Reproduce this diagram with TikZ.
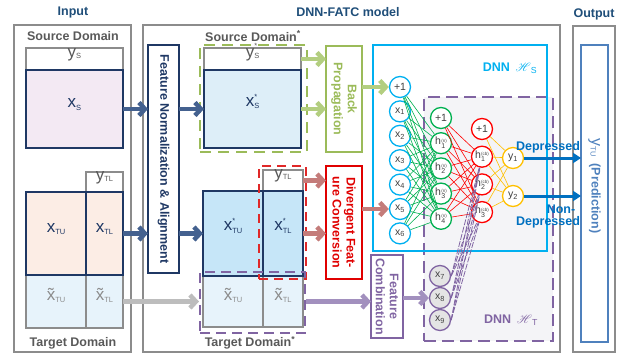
\documentclass[tikz,border=0pt]{standalone}
\usepackage{fontspec}
\setmainfont{Liberation Sans}
\usepackage{mathrsfs}
\usetikzlibrary{arrows.meta,fit}
\definecolor{cgray}{HTML}{8C8C8C}
\definecolor{cgrayA}{HTML}{BDBDBD}
\definecolor{cdb}{HTML}{1F3864}
\definecolor{ctitle}{HTML}{1F4E79}
\definecolor{carrowb}{HTML}{44618F}
\definecolor{cgreen}{HTML}{9BBB59}
\definecolor{cgreenA}{HTML}{B3CE80}
\definecolor{cred}{HTML}{E00000}
\definecolor{credD}{HTML}{E02828}
\definecolor{credA}{HTML}{C47C7A}
\definecolor{cpur}{HTML}{8064A2}
\definecolor{cpurA}{HTML}{A290BE}
\definecolor{ccyan}{HTML}{00B0F0}
\definecolor{cng}{HTML}{00B050}
\definecolor{cnr}{HTML}{FF0000}
\definecolor{cny}{HTML}{FFC000}
\definecolor{cblue}{HTML}{0070C0}
\definecolor{cob}{HTML}{4F81BD}
\definecolor{ctxt}{HTML}{595959}
\definecolor{cnode}{HTML}{404040}
\definecolor{cpink}{HTML}{F3E9F3}
\definecolor{cpeach}{HTML}{FCEDE5}
\definecolor{clb}{HTML}{E7F3FB}
\definecolor{cmb}{HTML}{C6E6F8}
\definecolor{cxs}{HTML}{DDEEF8}
\definecolor{cht}{HTML}{F4F4F7}
\definecolor{cfill}{HTML}{E4E4E4}
\newcommand{\vX}[1]{{\mdseries\fontsize{17}{17}\selectfont x}\raisebox{-2.5pt}{\mdseries\fontsize{7.5}{8}\selectfont #1}}
\newcommand{\vXs}[1]{{\mdseries\fontsize{17}{17}\selectfont x}\raisebox{-2.5pt}{\mdseries\fontsize{7.5}{7.5}\selectfont\renewcommand{\arraystretch}{1.3}\begin{tabular}[b]{@{}l@{}}*\\#1\end{tabular}}}
\newcommand{\vY}[1]{{\mdseries\fontsize{17}{17}\selectfont y}\raisebox{-1pt}{\mdseries\fontsize{7.5}{8}\selectfont #1}}
\newcommand{\vYs}[1]{{\mdseries\fontsize{17}{17}\selectfont y}\raisebox{-1pt}{\mdseries\fontsize{7.5}{7.5}\selectfont\renewcommand{\arraystretch}{1.3}\begin{tabular}[b]{@{}l@{}}*\\#1\end{tabular}}}
\newcommand{\vT}[1]{{\mdseries\fontsize{17}{17}\selectfont\ooalign{x\cr\hidewidth\char"02DC\hidewidth\cr}}\raisebox{-2.5pt}{\mdseries\fontsize{7.5}{8}\selectfont #1}}
\newcommand{\hh}[2]{h\hspace{0.2pt}\raisebox{-0.5pt}{\fontsize{4.5}{4.5}\selectfont\renewcommand{\arraystretch}{0.8}\begin{tabular}{@{}l@{}}(#2)\\\fontsize{7}{7}\selectfont #1\end{tabular}}}
\begin{document}
\begin{tikzpicture}[x=1pt,y=-1pt,
  font=\fontsize{12.5}{14}\selectfont\bfseries,
  box/.style={draw=#1, line width=1.3pt, inner sep=0pt, outer sep=0pt},
  box/.default=cgray,
  bigarrow/.style={line width=4.5pt, draw=#1, -{Straight Barb[length=6pt,width=13pt]}},
  outarrow/.style={line width=3pt, draw=cblue, -{Triangle[length=8pt,width=10pt]}},
  nn/.style={circle, draw=#1, line width=1.3pt, fill=white, minimum size=21pt, inner sep=0pt, font=\fontsize{10.5}{11}\selectfont\mdseries, text=cnode},
  rtext/.style={rotate=-90, align=center}
]
\path[use as bounding box] (0,0) rectangle (631,354);

% ---------------- Input ----------------
\node[box, line width=1.8pt, fit={(14,25)(131,352)}] (inp) {};
\node[text=ctitle] (tin) at (73,12) {Input};
\node[text=ctxt] (tsd) at (73,36) {Source Domain};
\node[box, fit={(26,48)(123,70)}, text=ctxt] (ys) {\vY{S}};
\node[box=cdb, line width=1.6pt, fill=cpink, fit={(26,70)(123,148)}, text=cdb] (xs) {\vX{S}};
\node[box, fill=clb, fit={(26,275)(86,328)}, text=cgray] (ttu) {\vT{TU}};
\node[box, fill=clb, fit={(86,275)(123,328)}, text=cgray] (ttl) {\vT{TL}};
\node[box, fit={(86,172)(123,192)}, text=ctxt] (ytl) {\vY{TL}};
\node[box=cdb, line width=1.6pt, fill=cpeach, fit={(26,192)(86,275)}, text=cdb] (xtu) {\vX{TU}};
\node[box=cdb, line width=1.6pt, fill=cpeach, fit={(86,192)(123,275)}, text=cdb] (xtl) {\vX{TL}};
\node[text=ctxt] (ttd) at (73,343) {Target Domain};

% ---------------- Model frame ----------------
\node[box, line width=1.8pt, fit={(143,25)(560,352)}] (mdl) {};
\node[text=ctitle] (tmdl) at (348,12) {DNN-FATC model};
\node[box=cdb, line width=1.6pt, fit={(148,45)(179,273)}] (fn) {};
\node[rtext, text=cdb] (tfn) at (fn.center) {Feature Normalization \& Alignment};

% ---------------- Source domain* ----------------
\node[text=ctxt] (tsds) at (253,36) {Source Domain\textsuperscript{*}};
\node[box, fit={(204,48)(301,70)}, text=ctxt] (yss) {\vYs{S}};
\node[box=cdb, line width=1.6pt, fill=cxs, fit={(204,70)(301,148)}, text=cdb] (xss) {\vXs{S}};
\node[draw=cgreen, line width=2.5pt, dash pattern=on 11pt off 7pt, inner sep=0pt, fit={(200,45)(307,152)}] (gd) {};
\node[box=cgreen, line width=1.6pt, fit={(326,46)(362,152)}] (bp) {};
\node[rtext, text=cgreen] (tbp) at (bp.center) {Back\\Propagation};

% ---------------- Target domain* ----------------
\node[box, fill=clb, fit={(203,276)(263,327)}, text=cgray] (stu) {\vT{TU}};
\node[box, fill=clb, fit={(263,276)(303,327)}, text=cgray] (stl) {\vT{TL}};
\node[box, fit={(263,170)(303,191)}, text=ctxt] (sytl) {\vY{TL}};
\node[box=cdb, line width=1.6pt, fill=cmb, fit={(203,191)(263,276)}, text=cdb] (sxtu) {\vXs{TU}};
\node[box=cdb, line width=1.6pt, fill=cmb, fit={(263,191)(303,276)}, text=cdb] (sxtl) {\vXs{TL}};
\node[draw=credD, line width=1.8pt, dash pattern=on 9pt off 6pt, inner sep=0pt, fit={(259,166)(306,279)}] (rd) {};
\node[draw=cpur, line width=2pt, dash pattern=on 10pt off 6pt, inner sep=0pt, fit={(200,272)(305,333)}] (pd) {};
\node[text=ctxt] (ttds) at (250,343) {Target Domain\textsuperscript{*}};
\node[box=cred, line width=1.6pt, fit={(326,166)(362,279)}] (dc) {};
\node[rtext, text=cred] (tdc) at (dc.center) {Divergent Feat-\\ure Conversion};
\node[box=cpur, line width=1.6pt, fit={(371,255)(403,338)}] (fc) {};
\node[rtext, text=cpur] (tfc) at (fc.center) {Feature\\Combination};

% ---------------- DNN boxes ----------------
\node[draw=cpur, line width=2pt, dash pattern=on 12pt off 6pt, fill=cht, inner sep=0pt, fit={(424,97)(553,341)}] (ht) {};
\node[draw=ccyan, line width=1.3pt, inner sep=0pt, fit={(373,45)(547,251)}] (hs) {};
\node[text=ccyan] (lhs) at (510,68) {DNN \,$\mathscr{H}$\textsubscript{\mdseries S}};
\node[text=cpur] (lht) at (511,320) {DNN \,$\mathscr{H}$\textsubscript{\mdseries T}};

% ---------------- Network nodes ----------------
\node[nn=ccyan] (i0) at (400,87) {+1};
\foreach \k in {1,...,6} \node[nn=ccyan] (i\k) at (400,{87+24.4*\k}) {x\textsubscript{\k}};
\node[nn=cng] (a0) at (441,118) {+1};
\foreach \k in {1,...,4} \node[nn=cng] (a\k) at (441,{118+25.2*\k}) {\hh{\k}{n}};
\node[nn=cnr] (b0) at (482,129) {+1};
\foreach \k in {1,...,3} \node[nn=cnr] (b\k) at (482,{129+27.7*\k}) {\hh{\k}{cb}};
\node[nn=cny] (o1) at (513,158) {y\textsubscript{1}};
\node[nn=cny] (o2) at (513,196) {y\textsubscript{2}};
\node[nn=cpur, fill=cfill] (p7) at (440,276) {x\textsubscript{7}};
\node[nn=cpur, fill=cfill] (p8) at (440,298) {x\textsubscript{8}};
\node[nn=cpur, fill=cfill] (p9) at (440,320) {x\textsubscript{9}};

% edges
\foreach \i in {0,...,6} \foreach \j in {1,...,4} \draw[cng, line width=0.6pt] (i\i) -- (a\j);
\foreach \i in {0,...,4} \foreach \j in {1,...,3} \draw[cnr, line width=0.6pt] (a\i) -- (b\j);
\foreach \i in {0,...,3} \foreach \j in {1,2} \draw[cny, line width=0.6pt] (b\i) -- (o\j);
\foreach \i in {7,8,9} \foreach \j in {1,...,3} \draw[cpur, line width=0.8pt, dash pattern=on 6pt off 1.5pt] (p\i.east) -- (b\j);

% ---------------- Output ----------------
\node[box, line width=1.8pt, fit={(573,26)(615,352)}] (out) {};
\node[box=cob, line width=1.6pt, fit={(581,45)(608,342)}] (outin) {};
\node[text=ctitle] (tout) at (594,14) {Output};
\node[rtext, text=cob] (tpred) at (594.5,186) {{\mdseries\fontsize{16}{16}\selectfont y}\raisebox{-1pt}{\mdseries\fontsize{7.5}{8}\selectfont TU}\ \ (Prediction)};

% ---------------- Arrows ----------------
\draw[bigarrow=carrowb] (xs.east) -- (fn.west |- xs.east);
\draw[bigarrow=carrowb] (xtl.east) -- (fn.west |- xtl.east);
\draw[bigarrow=cgrayA] (ttl.east) -- (pd.west |- ttl.east);
\draw[bigarrow=carrowb] (fn.east |- xss.west) -- (xss.west);
\draw[bigarrow=carrowb] (fn.east |- sxtu.west) -- (sxtu.west);
\draw[bigarrow=cgreenA] (yss.east) -- (bp.west |- yss.east);
\draw[bigarrow=cgreenA] (xss.east) -- (bp.west |- xss.east);
\draw[bigarrow=cgreenA] (bp.east |- i0) -- (i0);
\draw[bigarrow=credA] (sytl.east) -- (dc.west |- sytl.east);
\draw[bigarrow=credA] (sxtl.east) -- (dc.west |- sxtl.east);
\draw[bigarrow=credA] (dc.east |- i5) -- (i5);
\draw[bigarrow=cpurA] (pd.east |- stl.east) -- (fc.west |- stl.east);
\draw[bigarrow=cpurA] (fc.east |- p8) -- (p8);
\draw[outarrow] (o1) -- (outin.west |- o1);
\draw[outarrow] (o2) -- (outin.west |- o2);
\node[text=cblue] (ld) at (548,147) {Depressed};
\node[text=cblue] (ln1) at (561,209) {Non-};
\node[text=cblue] (ln2) at (548,222) {Depressed};
\end{tikzpicture}
\end{document}
